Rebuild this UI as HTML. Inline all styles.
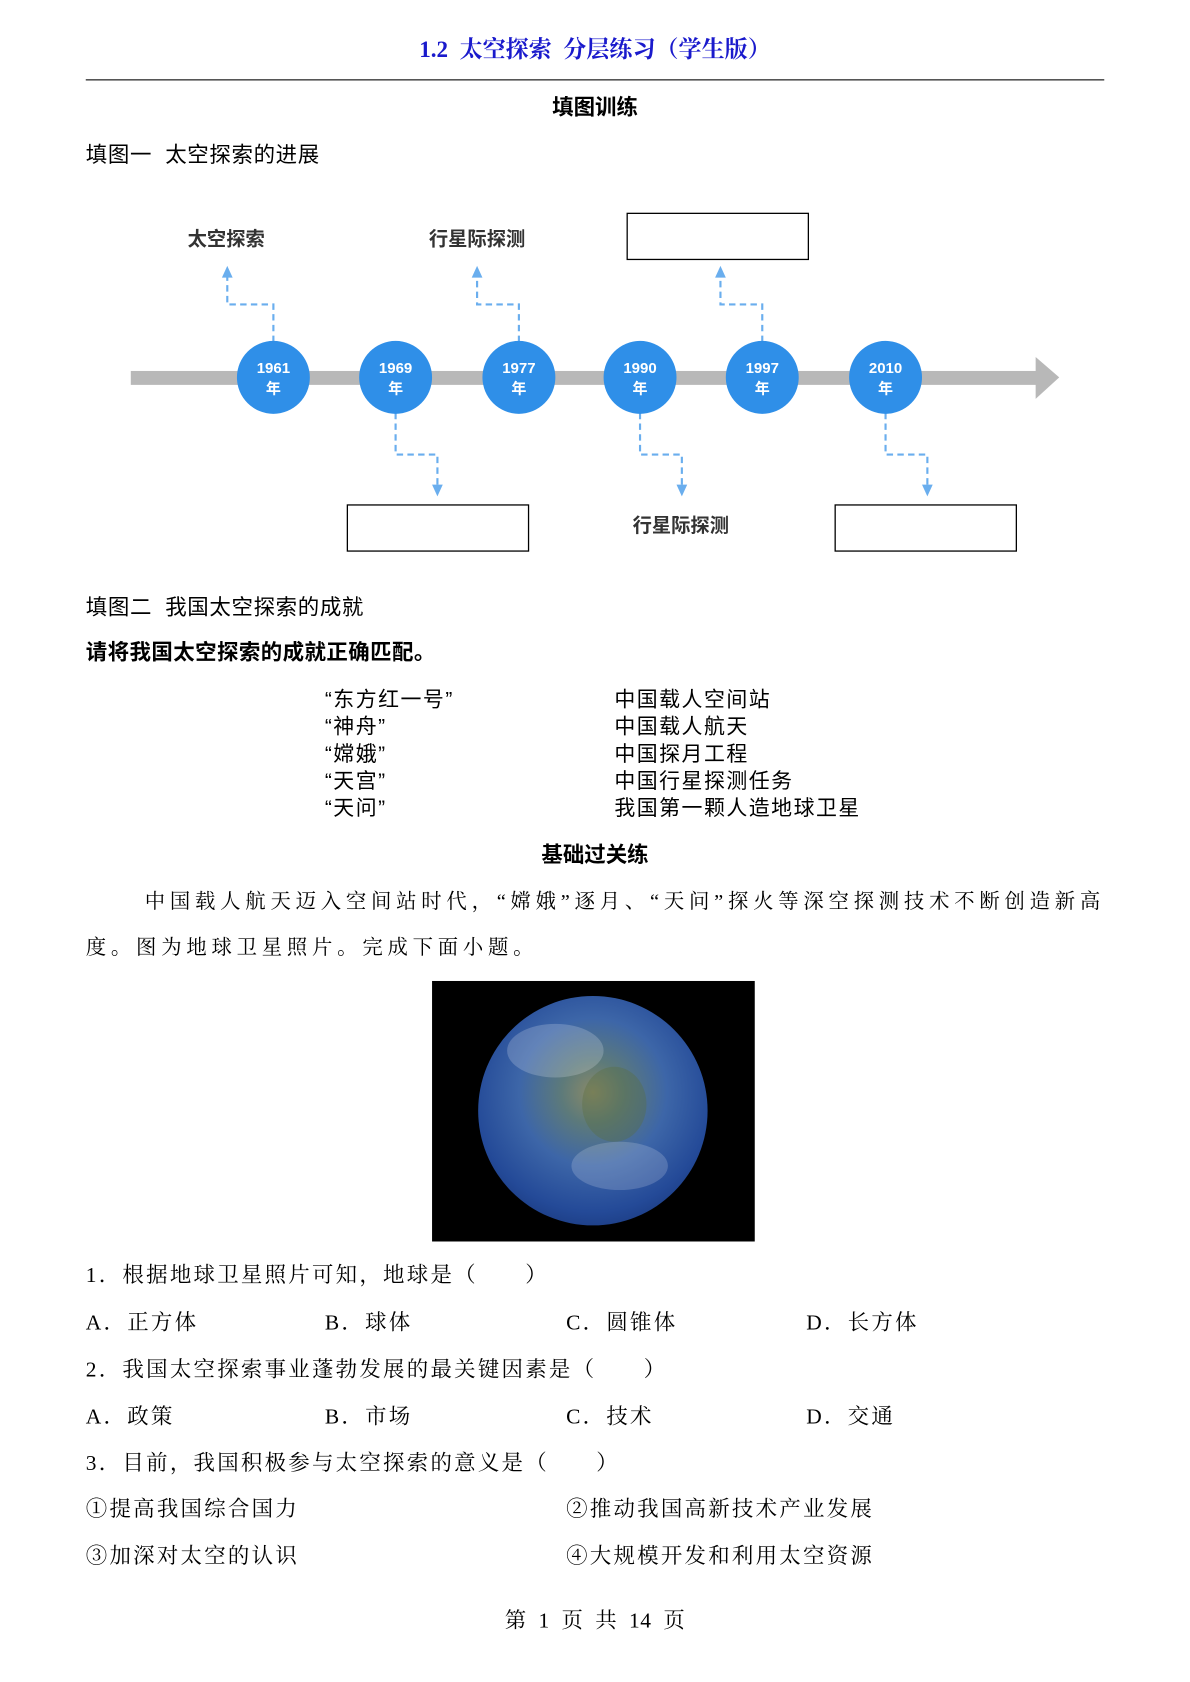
<!DOCTYPE html>
<html><head><meta charset="utf-8"><style>
html,body{margin:0;padding:0;background:#fff;width:1190px;height:1682px;overflow:hidden}
#w{position:absolute;left:0;top:0;width:1110px;height:1569px;transform:scale(1.0721);transform-origin:0 0;font-family:"Liberation Serif","Noto Serif CJK SC",serif;color:#000}
.t{position:absolute;white-space:nowrap;line-height:24px;height:24px;font-size:20px}
.s{font-family:"Liberation Sans","Noto Sans CJK SC",sans-serif}
.c{left:0;width:1110px;text-align:center}
.b{font-weight:bold}
.q{letter-spacing:2.1px}
.m{font-size:19.5px;letter-spacing:1.4px}
</style></head><body><div id="w">
<div class="t c b" style="top:34px;color:#1a1acc;font-size:21.5px">1.2&nbsp; 太空探索&nbsp; 分层练习（学生版）</div>
<div style="position:absolute;left:80px;top:74px;width:950px;height:1px;background:#000"></div>
<div class="t c b s" style="top:89px">填图训练</div>
<div class="t s" style="left:80px;top:133px;letter-spacing:0.6px">填图一&nbsp; 太空探索的进展</div>

<svg style="position:absolute;left:0;top:0" width="1110" height="560">
<rect x="122" y="346" width="848" height="13" fill="#b8b8b8"/>
<polygon points="966,333 988,352 966,372" fill="#b8b8b8"/>
<g stroke="#6aaeee" stroke-width="2" stroke-dasharray="6,4" fill="none">
<path d="M255 319 V284 H212 V256"/>
<path d="M484 319 V284 H445 V256"/>
<path d="M711 319 V284 H672 V256"/>
<path d="M369 385 V424 H408 V456"/>
<path d="M597 385 V424 H636 V456"/>
<path d="M826 385 V424 H865 V456"/>
</g>
<g fill="#6aaeee">
<polygon points="212,248 207,259 217,259"/><polygon points="445,248 440,259 450,259"/><polygon points="672,248 667,259 677,259"/>
<polygon points="408,463 403,452 413,452"/><polygon points="636,463 631,452 641,452"/><polygon points="865,463 860,452 870,452"/>
</g>
<g fill="#2f8fe8">
<ellipse cx="255" cy="352" rx="34" ry="34"/><ellipse cx="369" cy="352" rx="34" ry="34"/><ellipse cx="484" cy="352" rx="34" ry="34"/>
<ellipse cx="597" cy="352" rx="34" ry="34"/><ellipse cx="711" cy="352" rx="34" ry="34"/><ellipse cx="826" cy="352" rx="34" ry="34"/>
</g>
<g fill="#fff" font-family="Liberation Sans,Noto Sans CJK SC,sans-serif" font-weight="bold" font-size="14" text-anchor="middle">
<text x="255" y="348">1961</text><text x="255" y="367">年</text>
<text x="369" y="348">1969</text><text x="369" y="367">年</text>
<text x="484" y="348">1977</text><text x="484" y="367">年</text>
<text x="597" y="348">1990</text><text x="597" y="367">年</text>
<text x="711" y="348">1997</text><text x="711" y="367">年</text>
<text x="826" y="348">2010</text><text x="826" y="367">年</text>
</g>
<g fill="#333" font-family="Liberation Sans,Noto Sans CJK SC,sans-serif" font-weight="bold" font-size="18" text-anchor="middle">
<text x="211" y="229">太空探索</text><text x="445" y="229">行星际探测</text><text x="635" y="496">行星际探测</text>
</g>
<g fill="#fff" stroke="#000" stroke-width="1.2">
<rect x="585" y="199" width="169" height="43"/><rect x="324" y="471" width="169" height="43"/><rect x="779" y="471" width="169" height="43"/>
</g>
</svg>

<div class="t s" style="left:80px;top:555px;letter-spacing:0.6px">填图二&nbsp; 我国太空探索的成就</div>
<div class="t s b" style="left:80px;top:597px;letter-spacing:0.4px">请将我国太空探索的成就正确匹配。</div>
<div class="t s m" style="left:303px;top:641px">“东方红一号”</div>
<div class="t s m" style="left:303px;top:666px">“神舟”</div>
<div class="t s m" style="left:303px;top:692px">“嫦娥”</div>
<div class="t s m" style="left:303px;top:717px">“天宫”</div>
<div class="t s m" style="left:303px;top:742px">“天问”</div>
<div class="t s m" style="left:573px;top:641px">中国载人空间站</div>
<div class="t s m" style="left:573px;top:666px">中国载人航天</div>
<div class="t s m" style="left:573px;top:692px">中国探月工程</div>
<div class="t s m" style="left:573px;top:717px">中国行星探测任务</div>
<div class="t s m" style="left:573px;top:742px">我国第一颗人造地球卫星</div>
<div class="t c b s" style="top:786px">基础过关练</div>
<div class="t" style="left:135px;top:830px;font-size:19px;letter-spacing:4.45px">中国载人航天迈入空间站时代，“嫦娥”逐月、“天问”探火等深空探测技术不断创造新高</div>
<div class="t" style="left:80px;top:873px;font-size:19px;letter-spacing:4.45px">度。图为地球卫星照片。完成下面小题。</div>

<div style="position:absolute;left:403px;top:915px;width:301px;height:243px;background:#000;overflow:hidden">
<div style="position:absolute;left:43px;top:14px;width:214px;height:214px;border-radius:50%;background:radial-gradient(circle at 50% 42%,#8a8a68 0%,#5d7a7a 18%,#3d66a8 42%,#244a98 68%,#0e2560 100%)"></div>
<div style="position:absolute;left:70px;top:40px;width:90px;height:50px;border-radius:50%;background:rgba(230,235,245,.22)"></div>
<div style="position:absolute;left:130px;top:150px;width:90px;height:45px;border-radius:50%;background:rgba(230,235,245,.2)"></div>
<div style="position:absolute;left:140px;top:80px;width:60px;height:70px;border-radius:50%;background:rgba(90,110,60,.35)"></div>
</div>

<div class="t q" style="left:80px;top:1178px">1．根据地球卫星照片可知，地球是（　　）</div>
<div class="t q" style="left:80px;top:1222px">A．正方体</div><div class="t q" style="left:303px;top:1222px">B．球体</div><div class="t q" style="left:528px;top:1222px">C．圆锥体</div><div class="t q" style="left:752px;top:1222px">D．长方体</div>
<div class="t q" style="left:80px;top:1266px">2．我国太空探索事业蓬勃发展的最关键因素是（　　）</div>
<div class="t q" style="left:80px;top:1310px">A．政策</div><div class="t q" style="left:303px;top:1310px">B．市场</div><div class="t q" style="left:528px;top:1310px">C．技术</div><div class="t q" style="left:752px;top:1310px">D．交通</div>
<div class="t q" style="left:80px;top:1353px">3．目前，我国积极参与太空探索的意义是（　　）</div>
<div class="t q" style="left:80px;top:1396px">①提高我国综合国力</div><div class="t q" style="left:528px;top:1396px">②推动我国高新技术产业发展</div>
<div class="t q" style="left:80px;top:1440px">③加深对太空的认识</div><div class="t q" style="left:528px;top:1440px">④大规模开发和利用太空资源</div>
<div class="t c" style="top:1500px;letter-spacing:0.5px">第&nbsp; 1&nbsp; 页&nbsp; 共&nbsp; 14&nbsp; 页</div>
</div></body></html>
